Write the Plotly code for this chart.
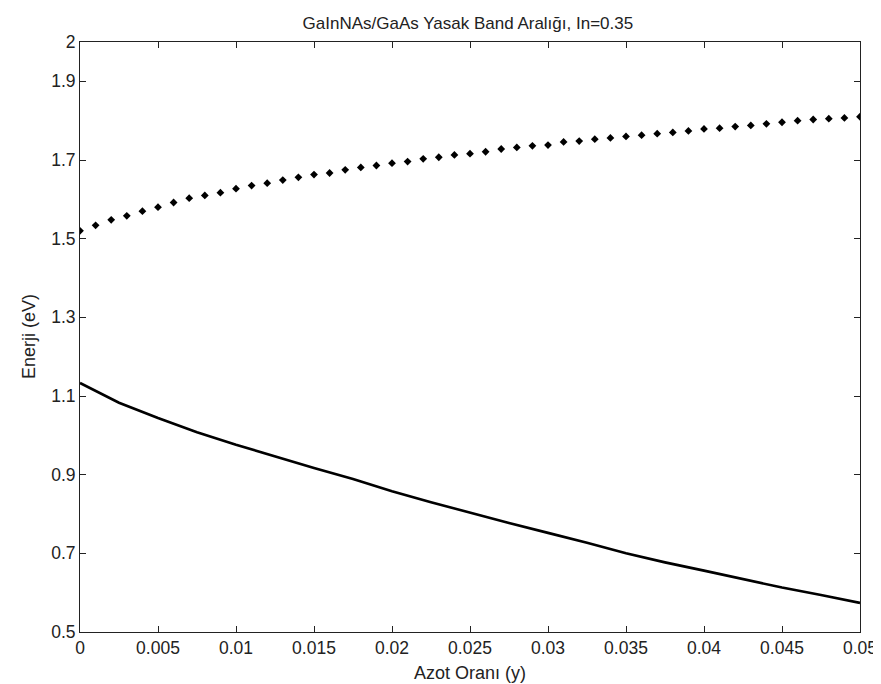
import plotly.graph_objects as go

# Upper series (dotted markers), y = 0 ... 0.05 step 0.001
dot_x = [i / 1000 for i in range(51)]
dot_e = [1.520, 1.534, 1.548, 1.558, 1.570, 1.580, 1.592, 1.603, 1.610, 1.617,
         1.627, 1.635, 1.641, 1.649, 1.656, 1.663, 1.667, 1.675, 1.681, 1.686,
         1.692, 1.696, 1.703, 1.707, 1.713, 1.716, 1.721, 1.728, 1.732, 1.736,
         1.738, 1.746, 1.748, 1.753, 1.756, 1.760, 1.763, 1.767, 1.770, 1.774,
         1.779, 1.781, 1.785, 1.788, 1.792, 1.796, 1.800, 1.803, 1.805, 1.807,
         1.810]

# Lower series (solid line), y = 0 ... 0.05 step 0.0025
line_x = [i * 0.0025 for i in range(21)]
line_e = [1.133, 1.083, 1.044, 1.008, 0.976, 0.946, 0.917, 0.889, 0.858, 0.830,
          0.803, 0.777, 0.752, 0.727, 0.700, 0.677, 0.656, 0.634, 0.613, 0.594,
          0.574]

x_tickvals = [i * 0.005 for i in range(11)]
x_ticktext = ["0", "0.005", "0.01", "0.015", "0.02", "0.025", "0.03", "0.035",
              "0.04", "0.045", "0.05"]
y_tickvals = [0.5, 0.7, 0.9, 1.1, 1.3, 1.5, 1.7, 1.9, 2.0]
y_ticktext = ["0.5", "0.7", "0.9", "1.1", "1.3", "1.5", "1.7", "1.9", "2"]

title_text = "GaInNAs/GaAs Yasak Band Aralığı, In=0.35"
x_title = "Azot Oranı (y)"
y_title = "Enerji (eV)"

FONT = "Liberation Sans, Arial, sans-serif"
TXT = "#222"

fig = go.Figure()
fig.add_trace(go.Scatter(x=line_x, y=line_e, mode="lines",
                         line=dict(color="black", width=2.6), showlegend=False))
fig.add_trace(go.Scatter(x=dot_x, y=dot_e, mode="markers",
                         marker=dict(symbol="diamond", size=6, color="black",
                                     line=dict(width=0)), showlegend=False))

axis_common = dict(
    showgrid=False, zeroline=False, showline=True, linecolor="#222",
    linewidth=1, mirror="allticks", ticks="inside", ticklen=6,
    tickcolor="#222", tickwidth=1,
    tickfont=dict(family=FONT, size=17.5, color=TXT),
)
fig.update_xaxes(range=[0, 0.05], tickmode="array", tickvals=x_tickvals,
                 ticktext=x_ticktext, **axis_common)
fig.update_yaxes(range=[0.5, 2.0], tickmode="array", tickvals=y_tickvals,
                 ticktext=y_ticktext, **axis_common)

fig.update_layout(
    width=881, height=684,
    margin=dict(l=72, r=24, t=34, b=60),
    paper_bgcolor="white", plot_bgcolor="white",
    font=dict(family=FONT, size=17.5, color=TXT),
    title=dict(text=title_text, x=0.522, xanchor="center", y=1 - 15 / 684,
               yanchor="middle", font=dict(family=FONT, size=17, color=TXT)),
    annotations=[
        dict(text=x_title, xref="paper", yref="paper", x=0.5, y=0,
             yshift=-41, xanchor="center", yanchor="middle", showarrow=False,
             font=dict(family=FONT, size=18, color=TXT)),
        dict(text=y_title, xref="paper", yref="paper", x=0, y=0.5,
             xshift=-51, xanchor="center", yanchor="middle", textangle=-90,
             showarrow=False, font=dict(family=FONT, size=18, color=TXT)),
    ],
)

fig.write_html("out.html")
